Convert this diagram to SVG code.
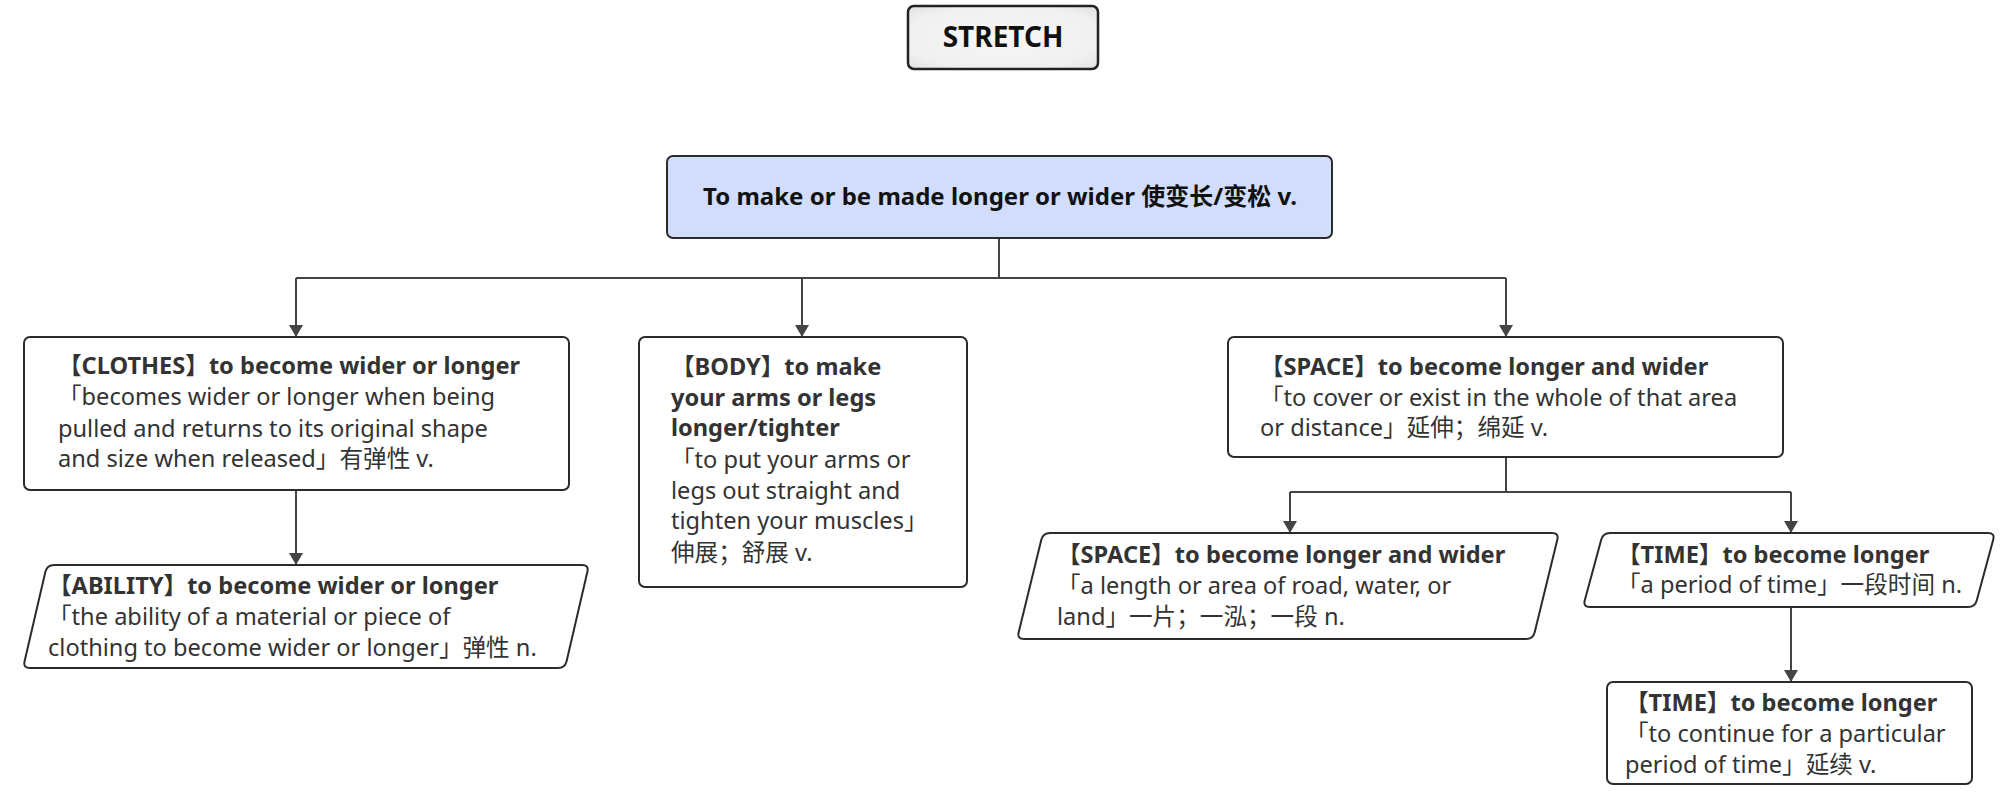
<svg xmlns="http://www.w3.org/2000/svg" width="2000" height="793" viewBox="0 0 2000 793">
<defs>
<radialGradient id="gs" cx="50%" cy="50%" r="75%">
<stop offset="0" stop-color="#f7f7f7"/>
<stop offset="0.7" stop-color="#f0f0f0"/>
<stop offset="1" stop-color="#dcdcdc"/>
</radialGradient>
<marker id="arr" viewBox="0 0 12 14" refX="12" refY="7" markerWidth="12" markerHeight="14" markerUnits="userSpaceOnUse" orient="auto">
<path d="M0,0 L12,7 L0,14 Z" fill="#444"/>
</marker>
</defs>
<style>
.box{fill:#ffffff;stroke:#2b2b2b;stroke-width:2}
.t{font-family:"Noto Sans","Noto Sans CJK SC",sans-serif;font-size:23.6px;fill:#333}
.b{font-weight:bold}
.ln{fill:none;stroke:#444;stroke-width:2}
</style>
<rect width="2000" height="793" fill="#ffffff"/>
<g id="connectors">
<path class="ln" d="M999,238 V278 M296,278 H1506"/>
<path class="ln" d="M296,278 V337" marker-end="url(#arr)"/>
<path class="ln" d="M802,278 V337" marker-end="url(#arr)"/>
<path class="ln" d="M1506,278 V337" marker-end="url(#arr)"/>
<path class="ln" d="M296,490 V565" marker-end="url(#arr)"/>
<path class="ln" d="M1506,457 V492 M1290,492 H1791"/>
<path class="ln" d="M1290,492 V533" marker-end="url(#arr)"/>
<path class="ln" d="M1791,492 V533" marker-end="url(#arr)"/>
<path class="ln" d="M1791,607 V682" marker-end="url(#arr)"/>
</g>
<g id="stretch">
<rect x="908" y="6" width="190" height="63" rx="6" fill="url(#gs)" stroke="#222" stroke-width="2.5"/>
<text x="1003" y="47" text-anchor="middle" class="t b" style="font-size:28px;fill:#111">STRETCH</text>
</g>
<g id="main">
<rect x="667" y="156" width="665" height="82" rx="6" fill="#d2ddfb" stroke="#2b2b2b" stroke-width="2"/>
<text x="1000" y="205" text-anchor="middle" class="t b" style="font-size:24px;fill:#111">To make or be made longer or wider 使变长/变松 v.</text>
</g>
<g id="clothes">
<rect class="box" x="24" y="337" width="545" height="153" rx="6"/>
<text class="t b" x="58" y="374">【CLOTHES】to become wider or longer</text>
<text class="t" x="58" y="405">「becomes wider or longer when being</text>
<text class="t" x="58" y="437">pulled and returns to its original shape</text>
<text class="t" x="58" y="467">and size when released」有弹性 v.</text>
</g>
<g id="ability">
<path class="box" d="M54,565 H582 Q589,565 587.4,571.8 L566.6,661.2 Q565,668 558,668 H30 Q23,668 24.6,661.2 L45.4,571.8 Q47,565 54,565 Z"/>
<text class="t b" x="48" y="594">【ABILITY】to become wider or longer</text>
<text class="t" x="48" y="625">「the ability of a material or piece of</text>
<text class="t" x="48" y="656">clothing to become wider or longer」弹性 n.</text>
</g>
<g id="body">
<rect class="box" x="639" y="337" width="328" height="250" rx="6"/>
<text class="t b" x="671" y="375">【BODY】to make</text>
<text class="t b" x="671" y="406">your arms or legs</text>
<text class="t b" x="671" y="436">longer/tighter</text>
<text class="t" x="671" y="468">「to put your arms or</text>
<text class="t" x="671" y="499">legs out straight and</text>
<text class="t" x="671" y="529">tighten your muscles」</text>
<text class="t" x="671" y="561">伸展；舒展 v.</text>
</g>
<g id="space">
<rect class="box" x="1228" y="337" width="555" height="120" rx="6"/>
<text class="t b" x="1260" y="375">【SPACE】to become longer and wider</text>
<text class="t" x="1260" y="406">「to cover or exist in the whole of that area</text>
<text class="t" x="1260" y="436">or distance」延伸；绵延 v.</text>
</g>
<g id="space2">
<path class="box" d="M1050,533 H1552 Q1559,533 1557.3,539.8 L1534.7,632.2 Q1533,639 1526,639 H1024 Q1017,639 1018.7,632.2 L1041.3,539.8 Q1043,533 1050,533 Z"/>
<text class="t b" x="1057" y="563">【SPACE】to become longer and wider</text>
<text class="t" x="1057" y="594">「a length or area of road, water, or</text>
<text class="t" x="1057" y="625">land」一片；一泓；一段 n.</text>
</g>
<g id="time">
<path class="box" d="M1610,533 H1988 Q1995,533 1993.2,539.8 L1976.8,600.2 Q1975,607 1968,607 H1590 Q1583,607 1584.8,600.2 L1601.2,539.8 Q1603,533 1610,533 Z"/>
<text class="t b" x="1617" y="563">【TIME】to become longer</text>
<text class="t" x="1617" y="593">「a period of time」一段时间 n.</text>
</g>
<g id="time2">
<rect class="box" x="1607" y="682" width="365" height="102" rx="6"/>
<text class="t b" x="1625" y="711">【TIME】to become longer</text>
<text class="t" x="1625" y="742">「to continue for a particular</text>
<text class="t" x="1625" y="773">period of time」延续 v.</text>
</g>
</svg>
